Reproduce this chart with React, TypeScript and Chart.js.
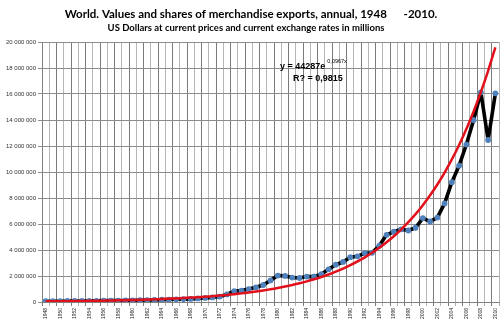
import React, { useEffect, useRef } from 'react';
import { Chart, registerables } from 'chart.js';

Chart.register(...registerables);

const years = [
  '1948', '1949', '1950', '1951', '1952', '1953', '1954', '1955', '1956', '1957',
  '1958', '1959', '1960', '1961', '1962', '1963', '1964', '1965', '1966', '1967',
  '1968', '1969', '1970', '1971', '1972', '1973', '1974', '1975', '1976', '1977',
  '1978', '1979', '1980', '1981', '1982', '1983', '1984', '1985', '1986', '1987',
  '1988', '1989', '1990', '1991', '1992', '1993', '1994', '1995', '1996', '1997',
  '1998', '1999', '2000', '2001', '2002', '2003', '2004', '2005', '2006', '2007',
  '2008', '2009', '2010',
];

// World merchandise exports, millions of US dollars
const exportValues = [
  58000, 58500, 61800, 82000, 80000, 82500, 85500, 93500, 103500, 112000,
  108000, 115500, 130000, 134000, 141500, 157000, 175000, 190000, 206000, 215000,
  240000, 274000, 317000, 352000, 419000, 579000, 839000, 877000, 992000, 1128000,
  1307000, 1659000, 2034000, 2008000, 1882000, 1845000, 1955000, 1954000, 2138000, 2516000,
  2869000, 3081000, 3449000, 3515000, 3766000, 3782000, 4326000, 5164000, 5403000, 5591000,
  5501000, 5712000, 6452000, 6191000, 6492000, 7586000, 9218000, 10489000, 12113000, 14000000,
  16130000, 12460000, 16050000,
];

// Exponential trend line shown on the chart: y = 44287 e^(0.0967x), x = 1..63
const trendA = 44287;
const trendB = 0.0967;
const trendValues = years.map((_, i) => trendA * Math.exp(trendB * (i + 1)));

const yMin = 0;
const yMax = 20000000;
const yStep = 2000000;

const titleText = 'World. Values and shares of merchandise exports, annual, 1948      -2010.';
const subtitleText = 'US Dollars at current prices and current exchange rates in millions';
const equationMain = 'y = 44287e';
const equationSup = '0,0967x';
const rSquaredText = 'R? = 0,9815';

function formatSpaced(v: number): string {
  return String(Math.round(v)).replace(/\B(?=(\d{3})+(?!\d))/g, ' ');
}

const textPlugin = {
  id: 'textPlugin',
  afterDraw(chart: any) {
    const ctx = chart.ctx;
    ctx.save();
    ctx.fillStyle = '#000000';
    ctx.textBaseline = 'alphabetic';
    ctx.textAlign = 'center';
    ctx.font = 'bold 11.5px Lato, "Open Sans", sans-serif';
    ctx.fillText(titleText, 251, 17.5);
    ctx.font = 'bold 9.5px Lato, "Open Sans", sans-serif';
    ctx.fillText(subtitleText, 246, 31);

    ctx.textAlign = 'left';
    ctx.font = 'bold 9px "Liberation Sans", Arial, sans-serif';
    ctx.fillText(equationMain, 280, 68.5);
    const w = ctx.measureText(equationMain).width;
    ctx.font = '5.5px "Liberation Sans", Arial, sans-serif';
    ctx.fillText(equationSup, 280 + w + 2, 63);
    ctx.font = 'bold 9px "Liberation Sans", Arial, sans-serif';
    ctx.fillText(rSquaredText, 293, 81);
    ctx.restore();
  },
};

export default function App() {
  const canvasRef = useRef<HTMLCanvasElement | null>(null);

  useEffect(() => {
    if (!canvasRef.current) return;
    const chart = new Chart(canvasRef.current, {
      type: 'line',
      data: {
        labels: years,
        datasets: [
          {
            label: 'Trend',
            data: trendValues,
            borderColor: '#E2101A',
            borderWidth: 2.5,
            pointRadius: 0,
            tension: 0.3,
            order: 0,
          },
          {
            label: 'Exports',
            data: exportValues,
            borderColor: '#000000',
            borderWidth: 3.6,
            borderJoinStyle: 'round',
            borderCapStyle: 'round',
            pointRadius: 2.9,
            pointBackgroundColor: '#4F81BD',
            pointBorderWidth: 0,
            tension: 0,
            order: 1,
          },
        ],
      },
      options: {
        animation: false,
        responsive: false,
        maintainAspectRatio: false,
        layout: { padding: { top: 42, right: 5, left: 0, bottom: 0 } },
        plugins: {
          legend: { display: false },
          title: { display: false },
          tooltip: { enabled: false },
        },
        scales: {
          x: {
            type: 'category',
            offset: true,
            afterFit: (s: any) => { s.height = 28; },
            grid: {
              offset: true,
              color: (c: any) => (c.index % 2 === 0 ? '#7a7a7a' : '#b5b5b5'),
              lineWidth: 1,
              tickLength: 4,
              drawTicks: true,
            },
            border: { color: '#808080', width: 1 },
            ticks: {
              autoSkip: false,
              maxRotation: 90,
              minRotation: 90,
              padding: 2,
              color: '#222222',
              font: { size: 5, family: '"Liberation Sans", Arial, sans-serif' },
              callback: (_v: any, i: number) => (i % 2 === 0 ? years[i] : ''),
            },
          },
          y: {
            min: yMin,
            max: yMax,
            afterFit: (s: any) => { s.width = 42; },
            grid: { color: '#8c8c8c', lineWidth: 1, tickLength: 4 },
            border: { color: '#808080', width: 1 },
            ticks: {
              stepSize: yStep,
              padding: 2,
              color: '#333333',
              font: { size: 6, family: '"Liberation Sans", Arial, sans-serif' },
              callback: (v: any) => formatSpaced(Number(v)),
            },
          },
        },
      },
      plugins: [textPlugin],
    });
    return () => chart.destroy();
  }, []);

  return (
    <div style={{ position: 'fixed', left: 0, top: 0, width: 504, height: 330, background: '#ffffff' }}>
      <canvas ref={canvasRef} width={504} height={330} style={{ width: 504, height: 330 }} />
    </div>
  );
}
